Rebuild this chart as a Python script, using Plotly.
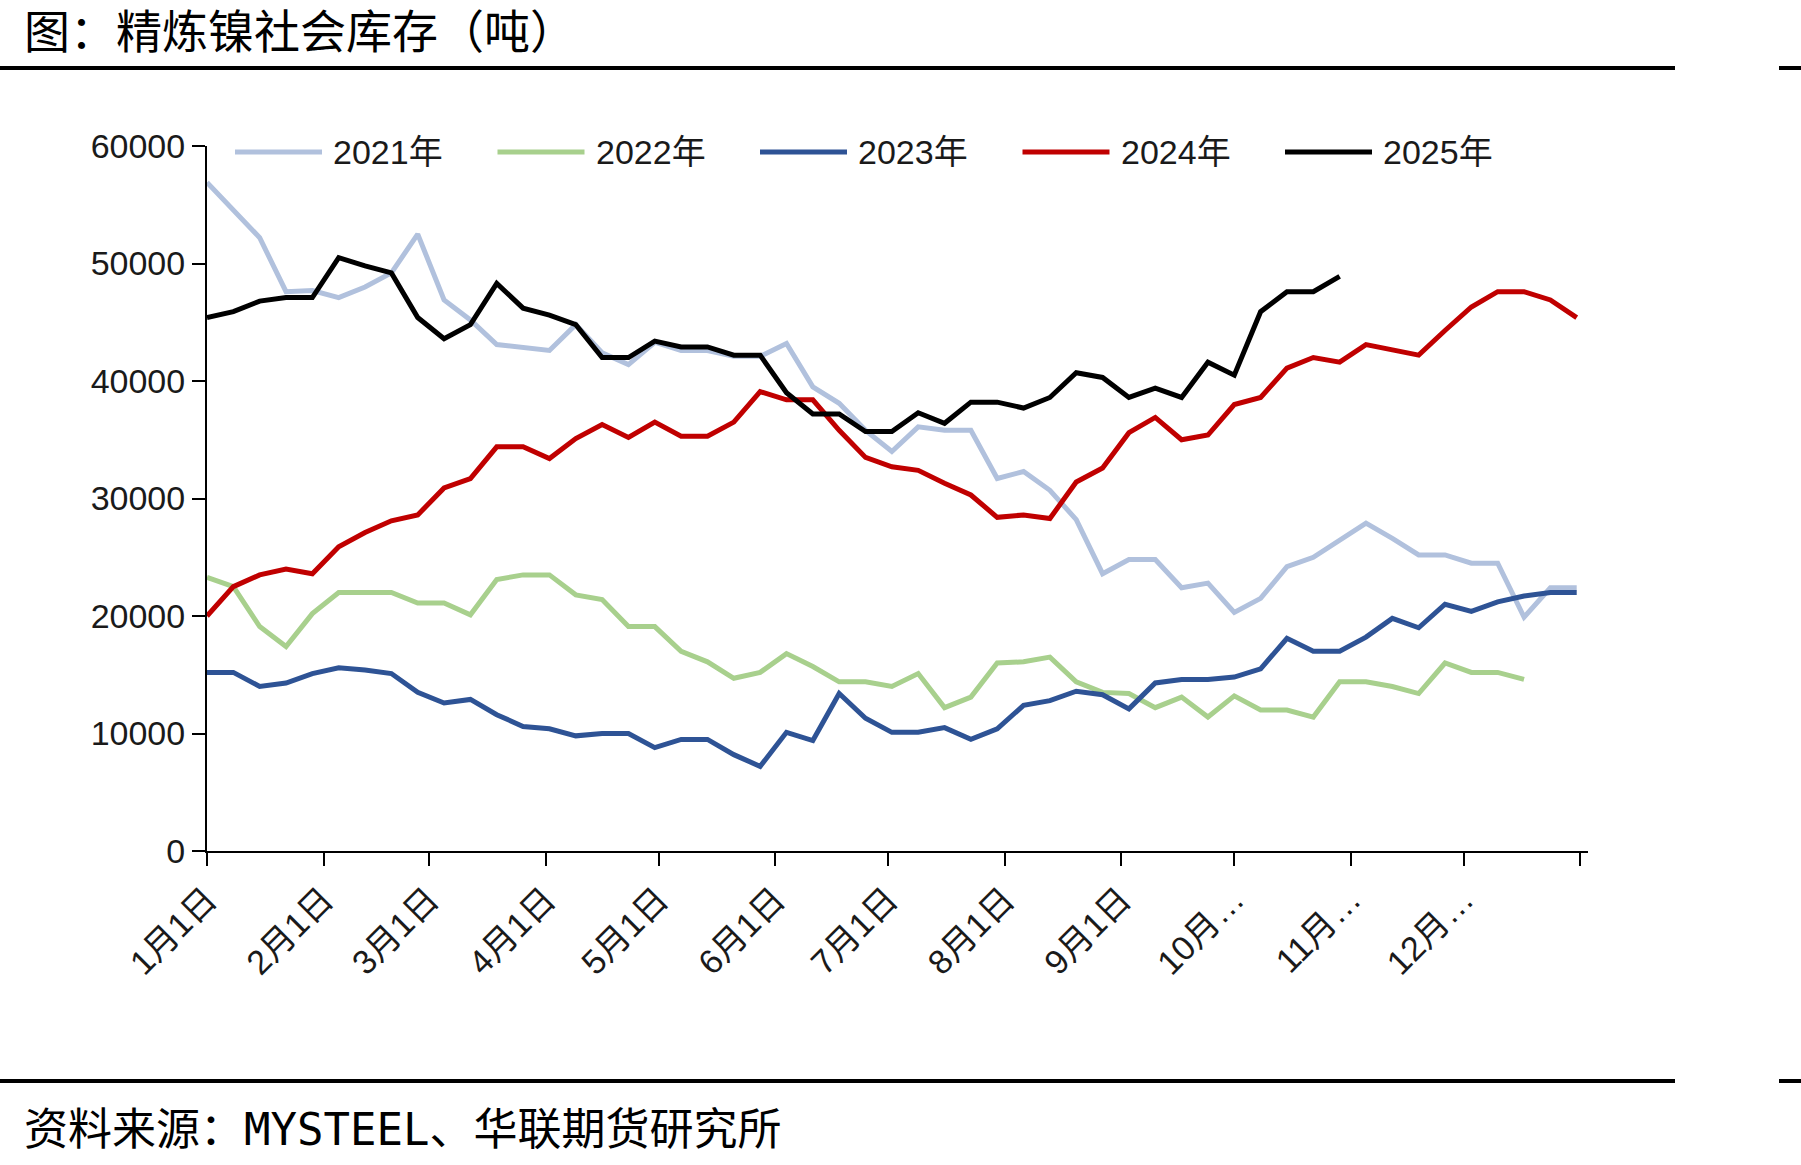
import pandas as pd
import plotly.graph_objects as go

# ---------------- data (weekly, tons) ----------------
series_names = ["2021年", "2022年", "2023年", "2024年", "2025年"]

inv_2021 = [56900, 54600, 52200, 47600, 47700, 47100, 48000, 49200, 52500, 46900,
            45200, 43100, 42800, 42600, 44800, 42400, 41400, 43300, 42600, 42600,
            42100, 42100, 43200, 39500, 38100, 35800, 34000, 36100, 35800, 35800,
            31700, 32300, 30700, 28200, 23600, 24800, 24800, 22400, 22800, 20300,
            21500, 24200, 25000, 26500, 27900, 26600, 25200, 25200, 24500, 24500,
            19900, 22400, 22400]

inv_2022 = [23300, 22500, 19100, 17400, 20200, 22000, 22000, 22000, 21100, 21100,
            20100, 23100, 23500, 23500, 21800, 21400, 19100, 19100, 17000, 16100,
            14700, 15200, 16800, 15700, 14400, 14400, 14000, 15100, 12200, 13100,
            16000, 16100, 16500, 14400, 13500, 13400, 12200, 13100, 11400, 13200,
            12000, 12000, 11400, 14400, 14400, 14000, 13400, 16000, 15200, 15200,
            14600]

inv_2023 = [15200, 15200, 14000, 14300, 15100, 15600, 15400, 15100, 13500, 12600,
            12900, 11600, 10600, 10400, 9800, 10000, 10000, 8800, 9500, 9500,
            8200, 7200, 10100, 9400, 13400, 11300, 10100, 10100, 10500, 9500,
            10400, 12400, 12800, 13600, 13300, 12100, 14300, 14600, 14600, 14800,
            15500, 18100, 17000, 17000, 18200, 19800, 19000, 21000, 20400, 21200,
            21700, 22000, 22000]

inv_2024 = [20000, 22500, 23500, 24000, 23600, 25900, 27100, 28100, 28600, 30900,
            31700, 34400, 34400, 33400, 35100, 36300, 35200, 36500, 35300, 35300,
            36500, 39100, 38400, 38400, 35800, 33500, 32700, 32400, 31300, 30300,
            28400, 28600, 28300, 31400, 32600, 35600, 36900, 35000, 35400, 38000,
            38600, 41100, 42000, 41600, 43100, 42600, 42200, 44300, 46300, 47600,
            47600, 46900, 45400]

inv_2025 = [45400, 45900, 46800, 47100, 47100, 50500, 49800, 49200, 45400, 43600,
            44800, 48300, 46200, 45600, 44800, 42000, 42000, 43400, 42900, 42900,
            42200, 42200, 39000, 37200, 37200, 35700, 35700, 37300, 36400, 38200,
            38200, 37700, 38600, 40700, 40300, 38600, 39400, 38600, 41600, 40500,
            45900, 47600, 47600, 48900]

tick_dates = ["2021-01-01", "2021-02-01", "2021-03-01", "2021-04-01", "2021-05-01",
              "2021-06-01", "2021-07-01", "2021-08-01", "2021-09-01", "2021-10-01",
              "2021-11-01", "2021-12-01", "2022-01-01"]
tick_labels = ["1月1日", "2月1日", "3月1日", "4月1日", "5月1日", "6月1日", "7月1日",
               "8月1日", "9月1日", "10月…", "11月…", "12月…", ""]

y_ticks = [0, 10000, 20000, 30000, 40000, 50000, 60000]

title_text = "图：精炼镍社会库存（吨）"
source_text = "资料来源：MYSTEEL、华联期货研究所"

# ---------------- styling ----------------
colors = ["#B1C1DD", "#A8D08D", "#2E5395", "#C00000", "#000000"]
all_series = [inv_2021, inv_2022, inv_2023, inv_2024, inv_2025]

W, H = 1801, 1165
PL, PR, PT, PB = 207, 1588, 146, 851


def pxx(x):
    return (x - PL) / (PR - PL)


def pxy(y):
    return (PB - y) / (PB - PT)


FONT_AX = "Liberation Sans, Arial, Noto Sans CJK SC"
FONT_CJK = "DejaVu Sans Mono, Noto Sans CJK SC"

fig = go.Figure()
for name, vals, col in zip(series_names, all_series, colors):
    dates = pd.date_range("2021-01-01", periods=len(vals), freq="7D")
    fig.add_trace(go.Scatter(x=dates, y=vals, mode="lines", name=name,
                             line=dict(color=col, width=5),
                             showlegend=False, hoverinfo="skip"))

shapes = []
annotations = []

# legend (drawn manually to match long line samples)
for i, (name, col) in enumerate(zip(series_names, colors)):
    x0 = 235 + i * 262.5
    shapes.append(dict(type="line", xref="paper", yref="paper",
                       x0=pxx(x0), x1=pxx(x0 + 87), y0=pxy(152), y1=pxy(152),
                       line=dict(color=col, width=5)))
    annotations.append(dict(text=name, xref="paper", yref="paper",
                            x=pxx(x0 + 96), y=pxy(152), xanchor="left", yanchor="middle",
                            showarrow=False, font=dict(size=34, family=FONT_AX, color="#1a1a1a")))

# horizontal rules
for yy in (68, 1081):
    shapes.append(dict(type="line", xref="paper", yref="paper",
                       x0=pxx(0), x1=pxx(1675), y0=pxy(yy), y1=pxy(yy),
                       line=dict(color="black", width=4)))
    shapes.append(dict(type="line", xref="paper", yref="paper",
                       x0=pxx(1779), x1=pxx(1801), y0=pxy(yy), y1=pxy(yy),
                       line=dict(color="black", width=4)))

annotations.append(dict(text=title_text, xref="paper", yref="paper",
                        x=pxx(22), y=pxy(32), xanchor="left", yanchor="middle",
                        showarrow=False, font=dict(size=46, family=FONT_CJK, color="black")))
annotations.append(dict(text=source_text, xref="paper", yref="paper",
                        x=pxx(22), y=pxy(1129), xanchor="left", yanchor="middle",
                        showarrow=False, font=dict(size=44, family=FONT_CJK, color="black")))

fig.update_layout(
    width=W, height=H,
    margin=dict(l=PL, r=W - PR, t=PT, b=H - PB, pad=0),
    paper_bgcolor="white", plot_bgcolor="white",
    shapes=shapes, annotations=annotations,
    showlegend=False,
)

fig.update_xaxes(
    type="date", range=["2021-01-01", "2022-01-03"],
    tickmode="array", tickvals=tick_dates, ticktext=tick_labels,
    tickangle=-45, ticks="outside", ticklen=13, tickwidth=2, tickcolor="black",
    showline=True, linecolor="black", linewidth=2,
    showgrid=False, zeroline=False,
    tickfont=dict(size=34, family=FONT_AX, color="#1a1a1a"),
)
fig.update_yaxes(
    range=[0, 60000], tickmode="array", tickvals=y_ticks, tickformat="d",
    ticks="outside", ticklen=13, tickwidth=2, tickcolor="black",
    showline=True, linecolor="black", linewidth=2,
    showgrid=False, zeroline=False,
    tickfont=dict(size=34, family=FONT_AX, color="#1a1a1a"),
)

fig.write_html("out.html", config={"displayModeBar": False})
